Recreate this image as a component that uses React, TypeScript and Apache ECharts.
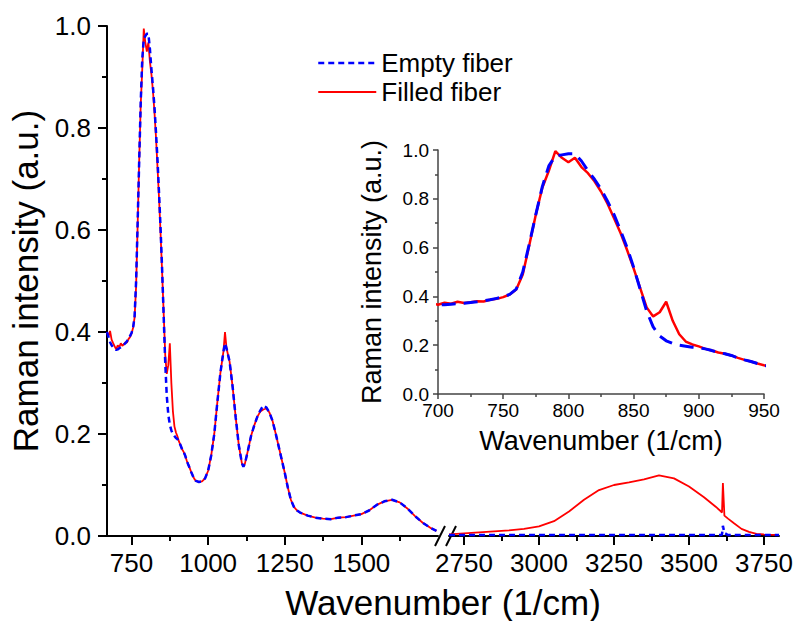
import React, { useEffect, useRef } from "react";
import * as echarts from "echarts";

// ---- Data ----
const leftWavenumbers = [
  670, 675, 680, 685, 690, 695, 700, 705, 710, 715,
  720, 725, 730, 735, 740, 745, 750, 755, 760, 765,
  770, 775, 780, 785, 790, 795, 800, 805, 810, 815,
  820, 825, 830, 835, 840, 845, 850, 855, 860, 865,
  870, 875, 880, 885, 890, 895, 900, 905, 910, 915,
  920, 925, 930, 935, 940, 945, 950, 955, 960,
  970, 980, 990, 1000, 1010, 1020, 1030, 1040, 1050, 1055,
  1060, 1070, 1080, 1090, 1100, 1110, 1115,
  1120, 1130, 1140, 1150, 1160, 1170, 1180, 1190, 1200, 1210,
  1220, 1230, 1240, 1250, 1260, 1270, 1280, 1290, 1300,
  1325, 1350, 1375, 1400, 1425, 1450, 1475, 1500, 1525, 1550,
  1575, 1600, 1625, 1650, 1675, 1700, 1725, 1745,
];

const filledLeft = [
  0.400, 0.392, 0.402, 0.385, 0.378, 0.372, 0.366, 0.374, 0.370, 0.378,
  0.373, 0.376, 0.380, 0.379, 0.386, 0.390, 0.397, 0.408, 0.428, 0.490,
  0.610, 0.735, 0.845, 0.915, 0.995, 0.968, 0.950, 0.968, 0.930, 0.905,
  0.872, 0.830, 0.780, 0.720, 0.660, 0.590, 0.515, 0.435, 0.355, 0.318,
  0.335, 0.378, 0.300, 0.245, 0.215, 0.203, 0.195, 0.185, 0.178, 0.170,
  0.165, 0.158, 0.148, 0.140, 0.133, 0.125, 0.118, 0.112, 0.108,
  0.106, 0.107, 0.113, 0.128, 0.158, 0.200, 0.262, 0.320, 0.362, 0.400,
  0.368, 0.342, 0.292, 0.232, 0.178, 0.143, 0.136,
  0.142, 0.168, 0.196, 0.216, 0.233, 0.244, 0.248, 0.250, 0.242, 0.226,
  0.202, 0.176, 0.150, 0.124, 0.095, 0.071, 0.057, 0.050, 0.046,
  0.040, 0.036, 0.034, 0.033, 0.036, 0.037, 0.040, 0.043, 0.050, 0.061,
  0.068, 0.071, 0.066, 0.054, 0.039, 0.026, 0.016, 0.010,
];

const emptyLeft = [
  0.400, 0.390, 0.380, 0.374, 0.370, 0.367, 0.365, 0.366, 0.368, 0.370,
  0.372, 0.375, 0.378, 0.382, 0.386, 0.392, 0.398, 0.408, 0.430, 0.500,
  0.615, 0.735, 0.850, 0.935, 0.975, 0.980, 0.985, 0.985, 0.955, 0.915,
  0.880, 0.840, 0.790, 0.735, 0.670, 0.600, 0.520, 0.430, 0.340, 0.275,
  0.238, 0.218, 0.207, 0.200, 0.196, 0.192, 0.190, 0.185, 0.178, 0.170,
  0.165, 0.158, 0.148, 0.140, 0.133, 0.125, 0.118, 0.112, 0.108,
  0.106, 0.107, 0.113, 0.128, 0.158, 0.200, 0.262, 0.320, 0.362, 0.378,
  0.368, 0.342, 0.292, 0.232, 0.178, 0.143, 0.136,
  0.142, 0.168, 0.196, 0.216, 0.233, 0.246, 0.256, 0.252, 0.242, 0.226,
  0.202, 0.176, 0.150, 0.124, 0.095, 0.071, 0.057, 0.050, 0.046,
  0.040, 0.036, 0.034, 0.033, 0.036, 0.037, 0.040, 0.043, 0.050, 0.061,
  0.068, 0.071, 0.066, 0.054, 0.039, 0.026, 0.016, 0.010,
];

const rightWavenumbers = [
  2700, 2750, 2800, 2850, 2900, 2950, 3000, 3050, 3100, 3150,
  3200, 3250, 3300, 3350, 3400, 3450, 3500, 3550, 3590, 3605,
  3610, 3613, 3618, 3630, 3650, 3675, 3700, 3725, 3750, 3800,
];

const filledRight = [
  0.003, 0.005, 0.007, 0.009, 0.011, 0.014, 0.019, 0.029, 0.048, 0.071,
  0.090, 0.100, 0.105, 0.111, 0.119, 0.113, 0.097, 0.076, 0.057, 0.049,
  0.046, 0.104, 0.040, 0.034, 0.025, 0.014, 0.008, 0.004, 0.003, 0.002,
];

const emptyRight = [
  0.002, 0.002, 0.002, 0.002, 0.002, 0.002, 0.002, 0.002, 0.002, 0.002,
  0.002, 0.002, 0.002, 0.002, 0.002, 0.002, 0.002, 0.002, 0.002, 0.002,
  0.003, 0.020, 0.006, 0.002, 0.002, 0.002, 0.002, 0.002, 0.002, 0.002,
];

const leftTicks = [750, 1000, 1250, 1500];
const leftMinorTicks = [875, 1125, 1375, 1625];
const rightTicks = [2750, 3000, 3250, 3500, 3750];
const rightMinorTicks = [2875, 3125, 3375, 3625];
const seriesNames = ["Empty fiber", "Filled fiber"];
const xTitle = "Wavenumber (1/cm)";
const yTitle = "Raman intensity (a.u.)";

const FONT = "'Liberation Sans', Arial, sans-serif";
const RED = "#ff0000";
const BLUE = "#0000ff";

const zip = (xs: number[], ys: number[]) => xs.map((x, i) => [x, ys[i]]);
const plain = (v: number) => String(v);

export default function App() {
  const ref = useRef<HTMLDivElement>(null);

  useEffect(() => {
    document.body.style.margin = "0";
    if (!ref.current) return;
    const chart = echarts.init(ref.current, undefined, { renderer: "svg" });

    const black = "#000";
    const mainLabel = { fontSize: 26, fontFamily: FONT, color: black };

    const option: any = {
      animation: false,
      backgroundColor: "#fff",
      textStyle: { fontFamily: FONT },
      legend: {
        data: [
          {
            name: seriesNames[0],
            lineStyle: { color: BLUE, width: 2.5, type: [6, 4] },
            itemStyle: { opacity: 0 },
          },
          {
            name: seriesNames[1],
            lineStyle: { color: RED, width: 2 },
            itemStyle: { opacity: 0 },
          },
        ],
        orient: "vertical",
        left: 312,
        top: 45,
        itemWidth: 58,
        itemHeight: 14,
        itemGap: 3,
        textStyle: { fontSize: 26, fontFamily: FONT, color: black },
      },
      grid: [
        { left: 107, top: 26, width: 331, bottom: 85, containLabel: false },
        { left: 449, top: 26, width: 330, bottom: 85, containLabel: false },
        { left: 438, top: 150, width: 326, height: 244, containLabel: false },
      ],
      xAxis: [
        {
          gridIndex: 0, type: "value", min: 670, max: 1750, position: "bottom",
          axisLine: { lineStyle: { color: black, width: 2 } },
          axisTick: { customValues: leftTicks, length: 9, lineStyle: { color: black, width: 2 } },
          axisLabel: { customValues: leftTicks, margin: 14, formatter: plain, ...mainLabel },
          splitLine: { show: false },
        },
        {
          gridIndex: 0, type: "value", min: 670, max: 1750, position: "bottom",
          axisLine: { show: false },
          axisTick: { customValues: leftMinorTicks, length: 5, lineStyle: { color: black, width: 2 } },
          axisLabel: { show: false },
          splitLine: { show: false },
        },
        {
          gridIndex: 1, type: "value", min: 2700, max: 3800, position: "bottom",
          axisLine: { lineStyle: { color: black, width: 2 } },
          axisTick: { customValues: rightTicks, length: 9, lineStyle: { color: black, width: 2 } },
          axisLabel: { customValues: rightTicks, margin: 14, formatter: plain, ...mainLabel },
          splitLine: { show: false },
        },
        {
          gridIndex: 1, type: "value", min: 2700, max: 3800, position: "bottom",
          axisLine: { show: false },
          axisTick: { customValues: rightMinorTicks, length: 5, lineStyle: { color: black, width: 2 } },
          axisLabel: { show: false },
          splitLine: { show: false },
        },
        {
          gridIndex: 2, type: "value", min: 700, max: 950, interval: 50, position: "bottom",
          axisLine: { lineStyle: { color: "#444", width: 1.5 } },
          axisTick: { length: 5, lineStyle: { color: "#444", width: 1.5 } },
          minorTick: { show: true, splitNumber: 2, length: 3, lineStyle: { color: "#444", width: 1.5 } },
          axisLabel: { margin: 7, fontSize: 19, fontFamily: FONT, color: black, formatter: plain },
          splitLine: { show: false },
          name: xTitle, nameLocation: "middle", nameGap: 33,
          nameTextStyle: { fontSize: 27, fontFamily: FONT, color: black },
        },
      ],
      yAxis: [
        {
          gridIndex: 0, type: "value", min: 0, max: 1, interval: 0.2,
          axisLine: { show: true, lineStyle: { color: black, width: 2 } },
          axisTick: { show: true, length: 9, lineStyle: { color: black, width: 2 } },
          minorTick: { show: true, splitNumber: 2, length: 5, lineStyle: { color: black, width: 2 } },
          axisLabel: { margin: 16, ...mainLabel, formatter: (v: number) => v.toFixed(1) },
          splitLine: { show: false },
          name: yTitle, nameLocation: "middle", nameGap: 64,
          nameTextStyle: { fontSize: 35, fontFamily: FONT, color: black },
        },
        {
          gridIndex: 1, type: "value", min: 0, max: 1, show: false,
          splitLine: { show: false },
        },
        {
          gridIndex: 2, type: "value", min: 0, max: 1, interval: 0.2,
          axisLine: { show: true, lineStyle: { color: "#444", width: 1.5 } },
          axisTick: { show: true, length: 5, lineStyle: { color: "#444", width: 1.5 } },
          minorTick: { show: true, splitNumber: 2, length: 3, lineStyle: { color: "#444", width: 1.5 } },
          axisLabel: { margin: 9, fontSize: 19, fontFamily: FONT, color: black, formatter: (v: number) => v.toFixed(1) },
          splitLine: { show: false },
          name: yTitle, nameLocation: "middle", nameGap: 53,
          nameTextStyle: { fontSize: 27, fontFamily: FONT, color: black },
        },
      ],
      series: [
        {
          type: "line", name: seriesNames[1], xAxisIndex: 0, yAxisIndex: 0,
          data: zip(leftWavenumbers, filledLeft), symbol: "none", showSymbol: false,
          lineStyle: { color: RED, width: 1.8 }, itemStyle: { color: RED },
        },
        {
          type: "line", name: seriesNames[0], xAxisIndex: 0, yAxisIndex: 0,
          data: zip(leftWavenumbers, emptyLeft), symbol: "none", showSymbol: false,
          lineStyle: { color: BLUE, width: 2.5, type: [6, 4] }, itemStyle: { color: BLUE },
        },
        {
          type: "line", name: seriesNames[1], xAxisIndex: 2, yAxisIndex: 1,
          data: zip(rightWavenumbers, filledRight), symbol: "none", showSymbol: false,
          lineStyle: { color: RED, width: 1.8 }, itemStyle: { color: RED },
        },
        {
          type: "line", name: seriesNames[0], xAxisIndex: 2, yAxisIndex: 1,
          data: zip(rightWavenumbers, emptyRight), symbol: "none", showSymbol: false,
          lineStyle: { color: BLUE, width: 2.5, type: [6, 4] }, itemStyle: { color: BLUE },
        },
        {
          type: "line", name: seriesNames[1], xAxisIndex: 4, yAxisIndex: 2,
          data: zip(leftWavenumbers, filledLeft), symbol: "none", showSymbol: false,
          lineStyle: { color: RED, width: 2.5 }, itemStyle: { color: RED },
        },
        {
          type: "line", name: seriesNames[0], xAxisIndex: 4, yAxisIndex: 2,
          data: zip(leftWavenumbers, emptyLeft), symbol: "none", showSymbol: false,
          lineStyle: { color: BLUE, width: 3, type: [14, 8] }, itemStyle: { color: BLUE },
        },
      ],
      graphic: [
        {
          type: "text", x: 443, y: 602,
          style: {
            text: xTitle, x: 0, y: 0, fontSize: 35, fontFamily: FONT, fill: black,
            align: "center", verticalAlign: "middle",
          },
        },
        {
          type: "line", shape: { x1: 435, y1: 546, x2: 445, y2: 526 },
          style: { stroke: black, lineWidth: 2 },
        },
        {
          type: "line", shape: { x1: 446, y1: 546, x2: 456, y2: 526 },
          style: { stroke: black, lineWidth: 2 },
        },
      ],
    };

    chart.setOption(option);
    return () => chart.dispose();
  }, []);

  return <div ref={ref} style={{ width: 797, height: 621 }} />;
}
